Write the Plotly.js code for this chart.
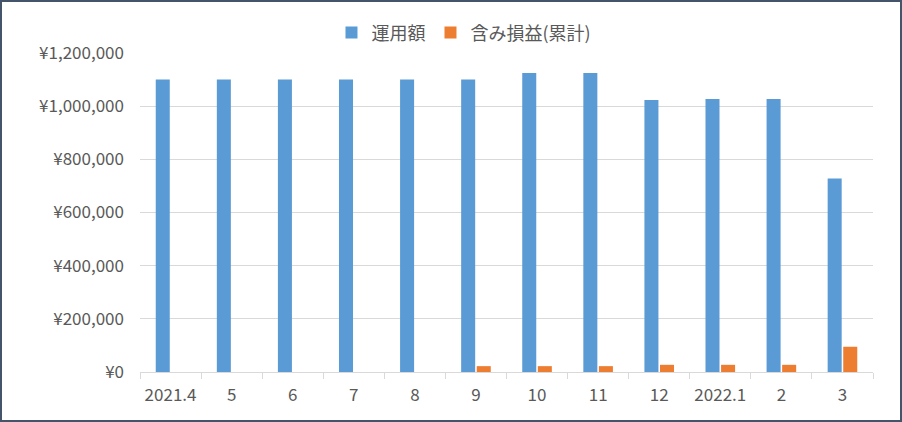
<!DOCTYPE html>
<html>
<head>
<meta charset="utf-8">
<script src="https://cdn.plot.ly/plotly-3.0.1.min.js"></script>
<style>
  html, body { margin: 0; padding: 0; background: #fff; }
  #chart {
    width: 902px; height: 422px;
    box-sizing: border-box;
    border: 2px solid #44546A;
  }
</style>
</head>
<body>
<div id="chart"></div>
<script>
// months (x categories)
var months = ['2021.4', '5', '6', '7', '8', '9', '10', '11', '12', '2022.1', '2', '3'];
// 運用額
var amount = [1100000, 1100000, 1100000, 1100000, 1100000, 1100000, 1125000, 1125000, 1023000, 1027000, 1027000, 728000];
// 含み損益(累計)
var profit = [0, 0, 0, 0, 0, 22000, 22000, 22000, 27000, 27000, 27000, 95000];

var fontFamily = '"Noto Sans CJK JP", "Noto Sans", sans-serif';

var data = [
    {
        x: months,
        y: amount,
        type: 'bar',
        name: '運用額',
        marker: { color: '#5B9BD5' },
        hoverinfo: 'x+y'
    },
    {
        x: months,
        y: profit,
        type: 'bar',
        name: '含み損益(累計)',
        marker: { color: '#ED7D31' },
        hoverinfo: 'x+y'
    }
];

var layout = {
    width: 898,
    height: 418,
    margin: { l: 138, r: 27, t: 51, b: 48 },
    paper_bgcolor: '#ffffff',
    plot_bgcolor: '#ffffff',
    font: { family: fontFamily, size: 17, color: '#595959' },
    barmode: 'group',
    bargap: 0.49,
    bargroupgap: 0.1,
    showlegend: true,
    legend: {
        orientation: 'h',
        x: 0.442,
        xanchor: 'center',
        xref: 'paper',
        y: 1.005,
        yanchor: 'bottom',
        font: { size: 18, color: '#595959' },
        itemwidth: 30,
        tracegroupgap: 0,
        traceorder: 'normal'
    },
    xaxis: {
        type: 'category',
        showgrid: false,
        showline: true,
        linecolor: '#d9d9d9',
        linewidth: 1,
        ticks: 'outside',
        tickcolor: '#d9d9d9',
        ticklen: 6,
        tickson: 'boundaries',
        ticklabelstandoff: 8,
        tickfont: { size: 17, color: '#595959' },
        zeroline: false,
        fixedrange: true
    },
    yaxis: {
        range: [0, 1200000],
        dtick: 200000,
        tickprefix: '¥',
        tickformat: ',d',
        showgrid: true,
        gridcolor: '#d9d9d9',
        gridwidth: 1,
        zeroline: false,
        showline: false,
        ticks: '',
        ticklabelstandoff: 15,
        tickfont: { size: 17, color: '#595959' },
        fixedrange: true
    }
};

Plotly.newPlot('chart', data, layout, { displayModeBar: false, staticPlot: true });
</script>
</body>
</html>
